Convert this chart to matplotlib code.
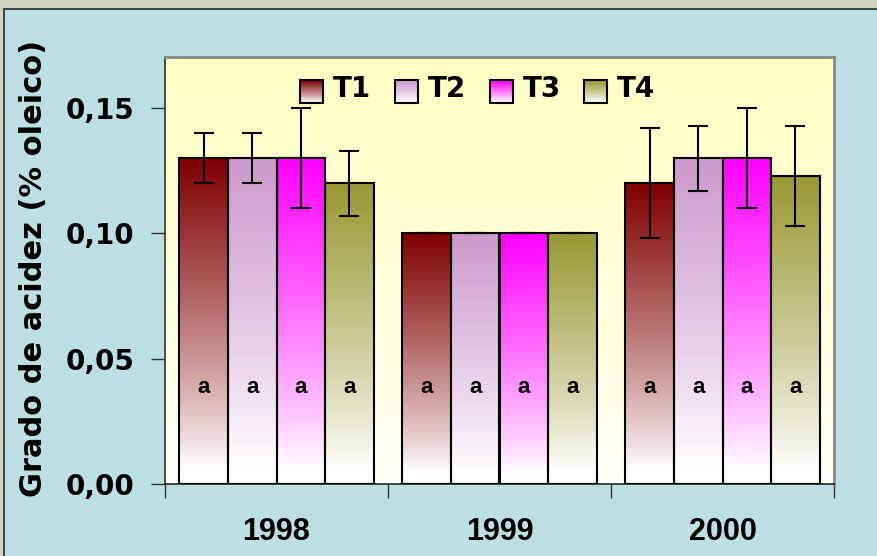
import numpy as np
import matplotlib
matplotlib.use("Agg")
import matplotlib.pyplot as plt
from matplotlib.patches import Rectangle
from matplotlib.colors import to_rgb
from matplotlib import font_manager

years = ["1998", "1999", "2000"]
treatments = ["T1", "T2", "T3", "T4"]
values = {
    "T1": [0.130, 0.100, 0.120],
    "T2": [0.130, 0.100, 0.130],
    "T3": [0.130, 0.100, 0.130],
    "T4": [0.120, 0.100, 0.123],
}
errors = {
    "T1": [0.010, 0.000, 0.022],
    "T2": [0.010, 0.000, 0.013],
    "T3": [0.020, 0.000, 0.020],
    "T4": [0.013, 0.000, 0.020],
}
letters = {
    "T1": ["a", "a", "a"],
    "T2": ["a", "a", "a"],
    "T3": ["a", "a", "a"],
    "T4": ["a", "a", "a"],
}
colors = {"T1": "#800000", "T2": "#cc99cc", "T3": "#ff00ff", "T4": "#999933"}
yticks = [0.0, 0.05, 0.10, 0.15]
ytick_labels = ["0,00", "0,05", "0,10", "0,15"]
ylabel = "Grado de acidez (% oleico)"

available = {f.name for f in font_manager.fontManager.ttflist}
narrow = [f for f in ["Liberation Sans Narrow", "DejaVu Sans Condensed"] if f in available]
xfont = narrow + ["Liberation Sans"]

W, H = 877, 556
fig = plt.figure(figsize=(W / 100, H / 100), dpi=100)
fig.patch.set_facecolor("#cdd5c0")
fig.patches.append(Rectangle((4 / W, -0.01), 1.0, 1 - 9 / H + 0.01, transform=fig.transFigure,
                             facecolor="#bbdfe2", edgecolor="#2a2a2a", linewidth=1.2, zorder=-5))

ax = fig.add_axes([165 / W, 1 - 484 / H, (834 - 165) / W, (484 - 57) / H])
ax.set_zorder(2)
ax.set_facecolor("none")
ymax = 0.1704

def gradient(color, n=256, white_frac=0.05, gamma=0.85):
    c = np.array(to_rgb(color))
    t = np.linspace(0, 1, n)  # 0 bottom, 1 top
    f = np.clip((t - white_frac) / (1 - white_frac), 0, 1) ** gamma
    img = (1 - f)[:, None, None] * np.ones((n, 1, 3)) + f[:, None, None] * c[None, None, :]
    return img

bg = gradient("#ffffc4", white_frac=0.0, gamma=0.6)
ax.imshow(bg, extent=[-0.5, 2.5, 0, ymax], origin="lower", aspect="auto", zorder=0)

bw = 0.218
x = np.arange(len(years))
for i, t in enumerate(treatments):
    off = (i - 1.5) * bw
    for j in range(len(years)):
        xc = x[j] + off
        h = values[t][j]
        rect = Rectangle((xc - bw / 2, 0), bw, h, facecolor="none", edgecolor="black",
                         linewidth=1.5, zorder=3)
        ax.add_patch(rect)
        im = ax.imshow(gradient(colors[t]), extent=[xc - bw / 2, xc + bw / 2, 0, h],
                       origin="lower", aspect="auto", zorder=2)
        im.set_clip_path(rect)
        ax.errorbar(xc, h, yerr=errors[t][j], fmt="none", ecolor="black", elinewidth=1.5,
                    capsize=7, capthick=1.5, zorder=4)
        ax.text(xc, 0.0385, letters[t][j], ha="center", va="center", fontsize=16,
                fontweight="bold", family="Liberation Sans", zorder=5)

ax.set_xlim(-0.5, 2.5)
ax.set_ylim(0, ymax)
ax.set_yticks(yticks)
ax.set_yticklabels(ytick_labels, fontsize=20, fontweight="bold", family="DejaVu Sans")
ax.set_xticks([-0.5, 0.5, 1.5, 2.5])
ax.set_xticklabels([])
ax.set_xticks(x, minor=True)
ax.set_xticklabels(years, minor=True, fontsize=22, fontweight="bold", family=xfont)
ax.tick_params(axis="x", which="minor", length=0, pad=24)
ax.tick_params(axis="x", which="major", length=10, width=1, color="#333333", direction="out")
ax.tick_params(axis="y", length=10, width=1, color="#333333", direction="out", pad=12)
for s in ["top", "right"]:
    ax.spines[s].set_color("#888888")
    ax.spines[s].set_linewidth(2)
ax.spines["left"].set_color("#333333")
ax.spines["bottom"].set_color("#222222")
ax.spines["left"].set_linewidth(1.2)
ax.spines["bottom"].set_linewidth(1.2)

fig.text(34 / W, 1 - 268 / H, ylabel, rotation=90, ha="center", va="center", fontsize=22,
         fontweight="bold", family="DejaVu Sans")

leg_x = [300, 395, 490, 584]
for i, t in enumerate(treatments):
    x0 = (leg_x[i] - 165) / (834 - 165)
    x1 = (leg_x[i] + 23 - 165) / (834 - 165)
    y0 = (484 - 103) / (484 - 57)
    y1 = (484 - 80) / (484 - 57)
    ax.imshow(gradient(colors[t], white_frac=0.05), extent=[x0, x1, y0, y1], origin="lower",
              aspect="auto", transform=ax.transAxes, zorder=6)
    ax.add_patch(Rectangle((x0, y0), x1 - x0, y1 - y0, transform=ax.transAxes, facecolor="none",
                           edgecolor="black", linewidth=1.5, zorder=7))
    ax.text((leg_x[i] + 33 - 165) / (834 - 165), (484 - 89) / (484 - 57), t, transform=ax.transAxes,
            ha="left", va="center", fontsize=20, fontweight="bold", family="DejaVu Sans", zorder=7)

ax.set_xlim(-0.5, 2.5)
ax.set_ylim(0, ymax)
fig.savefig("out.png", dpi=100, facecolor=fig.get_facecolor())
